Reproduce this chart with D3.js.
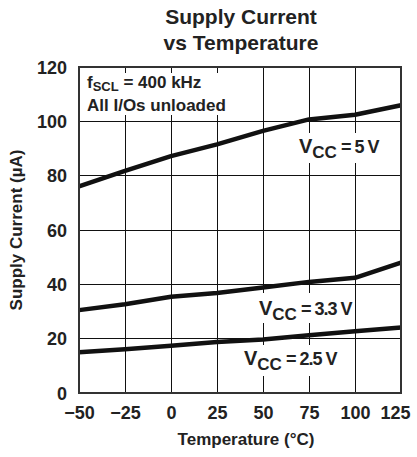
<!DOCTYPE html>
<html><head><meta charset="utf-8">
<script src="https://cdn.jsdelivr.net/npm/d3@7"></script>
<style>body{margin:0;background:#fff}svg{display:block}text{font-family:"Liberation Sans",Arial,sans-serif;font-weight:bold;fill:#222}</style>
</head><body>
<script>
const temps = [-50, -25, 0, 25, 50, 75, 100, 125];
const vcc50 = [76.1, 81.8, 87.2, 91.5, 96.5, 100.7, 102.4, 105.9];
const vcc33 = [30.5, 32.7, 35.4, 36.8, 38.8, 40.9, 42.4, 48.0];
const vcc25 = [15.0, 16.1, 17.4, 18.8, 19.7, 21.3, 22.7, 24.1];
const xTicks = [-50, -25, 0, 25, 50, 75, 100, 125];
const yTicks = [0, 20, 40, 60, 80, 100, 120];
const xTickLabels = ["\u221250", "\u221225", "0", "25", "50", "75", "100", "125"];

const W = 417, H = 457;
const L = 79, R = 401, T = 67, B = 393;
const svg = d3.select("body").append("svg").attr("width", W).attr("height", H);
const x = d3.scaleLinear().domain([-50, 125]).range([L, R]);
const y = d3.scaleLinear().domain([0, 120]).range([B, T]);

// grid
svg.append("g").selectAll("line").data(xTicks.slice(1, -1)).join("line")
  .attr("x1", d => x(d)).attr("x2", d => x(d)).attr("y1", T).attr("y2", B)
  .attr("stroke", "#111").attr("stroke-width", 1).attr("shape-rendering", "crispEdges");
svg.append("g").selectAll("line").data(yTicks.slice(1, -1)).join("line")
  .attr("y1", d => y(d)).attr("y2", d => y(d)).attr("x1", L).attr("x2", R)
  .attr("stroke", "#111").attr("stroke-width", 1).attr("shape-rendering", "crispEdges");

// white boxes behind labels
const boxes = [[80, 73, 162, 42], [292, 133, 92, 30], [255, 293, 100, 30], [240, 345, 108, 31]];
svg.append("g").selectAll("rect").data(boxes).join("rect")
  .attr("x", d => d[0]).attr("y", d => d[1]).attr("width", d => d[2]).attr("height", d => d[3])
  .attr("fill", "#fff");

// lines
const line = d3.line().x((d, i) => x(temps[i])).y(d => y(d));
[vcc50, vcc33, vcc25].forEach(s => {
  svg.append("path").attr("d", line(s)).attr("fill", "none")
    .attr("stroke", "#111").attr("stroke-width", 4.5).attr("stroke-linejoin", "round");
});

// frame
svg.append("rect").attr("x", L).attr("y", T).attr("width", R - L).attr("height", B - T)
  .attr("fill", "none").attr("stroke", "#333").attr("stroke-width", 2);

// axes tick labels
const xAxis = d3.axisBottom(x).tickValues(xTicks).tickSize(0).tickFormat((d, i) => xTickLabels[i]);
const gx = svg.append("g").attr("transform", `translate(0,${B})`).call(xAxis);
gx.select(".domain").remove();
gx.selectAll("text").attr("font-size", 18).attr("dy", null).attr("y", 26).style("fill", "#222")
  .style("font-family", '"Liberation Sans",Arial,sans-serif').style("font-weight", "bold");
gx.selectAll(".tick").filter(d => d === 125).select("text").attr("text-anchor", "end").attr("x", 9);

const yAxis = d3.axisLeft(y).tickValues(yTicks).tickSize(0);
const gy = svg.append("g").attr("transform", `translate(${L},0)`).call(yAxis);
gy.select(".domain").remove();
gy.selectAll("text").attr("font-size", 18).attr("x", -12).attr("dy", "0.35em").style("fill", "#222")
  .style("font-family", '"Liberation Sans",Arial,sans-serif').style("font-weight", "bold");

// titles
svg.append("text").attr("x", 241).attr("y", 24).attr("text-anchor", "middle").attr("font-size", 21).text("Supply Current");
svg.append("text").attr("x", 241).attr("y", 50).attr("text-anchor", "middle").attr("font-size", 21).text("vs Temperature");
svg.append("text").attr("x", 246).attr("y", 445).attr("text-anchor", "middle").attr("font-size", 17).text("Temperature (\u00B0C)");
svg.append("text").attr("transform", "translate(22,230) rotate(-90)").attr("text-anchor", "middle").attr("font-size", 17).text("Supply Current (\u00B5A)");

// annotation
const a1 = svg.append("text").attr("x", 87).attr("y", 88).attr("font-size", 17);
a1.append("tspan").text("f");
a1.append("tspan").attr("font-size", 13).attr("dy", 3).text("SCL");
a1.append("tspan").attr("dy", -3).text(" = 400 kHz");
svg.append("text").attr("x", 87).attr("y", 111).attr("font-size", 17).text("All I/Os unloaded");

// Vcc labels
function vlabel(x0, yb, val) {
  const t = svg.append("text").attr("x", x0).attr("y", yb).attr("font-size", 20);
  t.append("tspan").text("V");
  t.append("tspan").attr("font-size", 17).attr("dy", 5).text("CC");
  t.append("tspan").attr("dy", -5).attr("font-size", 18).attr("letter-spacing", -1).text(" = " + val + " V");
}
vlabel(299, 153, "5");
vlabel(259, 315, "3.3");
vlabel(244, 365, "2.5");
</script>
</body></html>
